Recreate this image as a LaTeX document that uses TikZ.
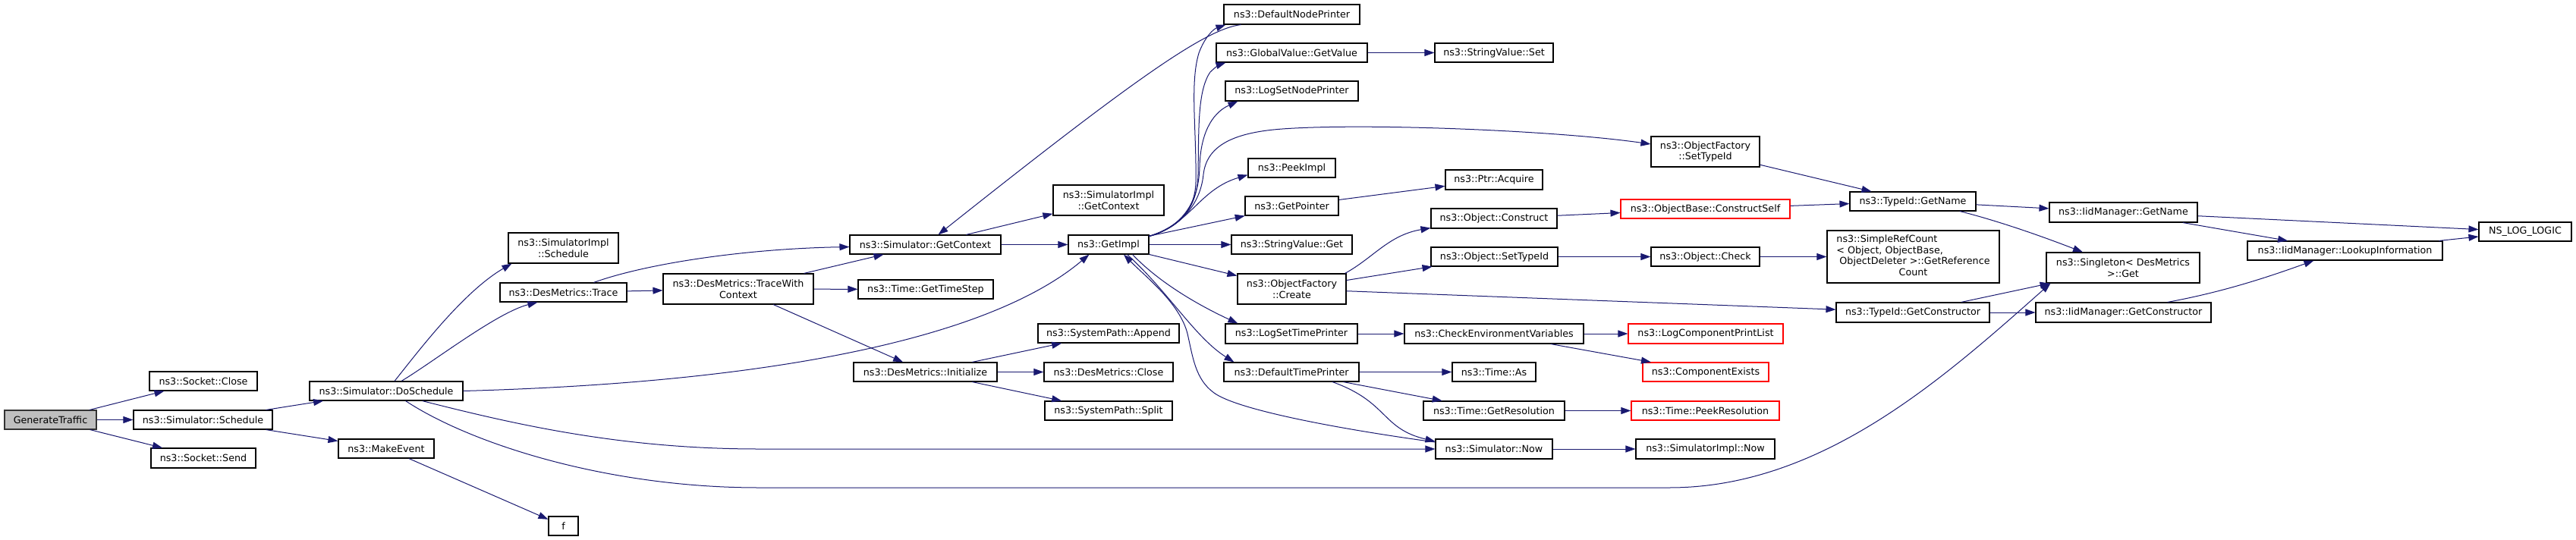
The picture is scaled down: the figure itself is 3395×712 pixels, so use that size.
\documentclass[tikz,border=0pt]{standalone}
\usepackage{fontspec}
\setmainfont{DejaVu Sans}
\usetikzlibrary{arrows.meta,calc}
\definecolor{edgec}{HTML}{191970}
\definecolor{grey75}{HTML}{BFBFBF}
\tikzset{
 box/.style={draw=black, line width=1.1pt, fill=white, inner sep=0pt, align=center, font=\fontsize{12.7}{14.7}\selectfont},
 redbox/.style={draw=red},
 rootbox/.style={fill=grey75, draw=black!80},
 call/.style={draw=edgec, line width=1pt, -{Triangle[length=13pt,width=9pt]}},
}
\newcommand{\nodebox}[7][]{\node[box,#1,minimum width={(#4)-(#2)},minimum height={(#5)-(#3)}] (#6) at ({((#2)+(#4))/2},{((#3)+(#5))/2}) {#7};}
\begin{document}
\begin{tikzpicture}[x=1pt,y=-1pt]
\useasboundingbox (0,0) rectangle (3395,712);
% nodes
\nodebox[rootbox]{6}{541}{127}{566}{gt}{GenerateTraffic}
\nodebox{197}{490}{339}{515}{sclose}{ns3::Socket::Close}
\nodebox{176}{541}{359}{566}{sched}{ns3::Simulator::Schedule}
\nodebox{199}{591}{337}{617}{ssend}{ns3::Socket::Send}
\nodebox{408}{503}{610}{528}{dosch}{ns3::Simulator::DoSchedule}
\nodebox{446}{579}{572}{604}{mkev}{ns3::MakeEvent}
\nodebox{723}{681}{762}{706}{ff}{f}
\nodebox{670}{307}{815}{347}{sisched}{ns3::SimulatorImpl\\::Schedule}
\nodebox{659}{373}{826}{398}{trace}{ns3::DesMetrics::Trace}
\nodebox{874}{361}{1072}{401}{twc}{ns3::DesMetrics::TraceWith\\Context}
\nodebox{1120}{310}{1319}{335}{gc}{ns3::Simulator::GetContext}
\nodebox{1131}{369}{1309}{394}{gts}{ns3::Time::GetTimeStep}
\nodebox{1125}{478}{1314}{503}{init}{ns3::DesMetrics::Initialize}
\nodebox{1368}{427}{1554}{452}{append}{ns3::SystemPath::Append}
\nodebox{1376}{478}{1546}{503}{dmclose}{ns3::DesMetrics::Close}
\nodebox{1377}{529}{1545}{554}{split}{ns3::SystemPath::Split}
\nodebox{1388}{244}{1534}{284}{sigc}{ns3::SimulatorImpl\\::GetContext}
\nodebox{1408}{310}{1514}{335}{gi}{ns3::GetImpl}
\nodebox{1613}{6}{1792}{32}{dnp}{ns3::DefaultNodePrinter}
\nodebox{1603}{57}{1802}{82}{gvgv}{ns3::GlobalValue::GetValue}
\nodebox{1891}{57}{2047}{82}{svset}{ns3::StringValue::Set}
\nodebox{1615}{107}{1790}{133}{lsnp}{ns3::LogSetNodePrinter}
\nodebox{2176}{180}{2319}{220}{ofst}{ns3::ObjectFactory\\::SetTypeId}
\nodebox{1645}{209}{1760}{234}{peek}{ns3::PeekImpl}
\nodebox{1905}{224}{2033}{250}{acq}{ns3::Ptr::Acquire}
\nodebox{1641}{259}{1764}{284}{gp}{ns3::GetPointer}
\nodebox{1886}{275}{2052}{301}{oc}{ns3::Object::Construct}
\nodebox[redbox]{2136}{263}{2359}{288}{cself}{ns3::ObjectBase::ConstructSelf}
\nodebox{1623}{310}{1782}{335}{svget}{ns3::StringValue::Get}
\nodebox{1886}{326}{2053}{351}{ost}{ns3::Object::SetTypeId}
\nodebox{2176}{326}{2319}{351}{check}{ns3::Object::Check}
\nodebox{1631}{361}{1774}{401}{create}{ns3::ObjectFactory\\::Create}
\nodebox{1615}{427}{1789}{453}{lstp}{ns3::LogSetTimePrinter}
\nodebox{1851}{427}{2087}{453}{cev}{ns3::CheckEnvironmentVariables}
\nodebox[redbox]{2146}{427}{2350}{453}{lcpl}{ns3::LogComponentPrintList}
\nodebox{1613}{478}{1791}{503}{dtp}{ns3::DefaultTimePrinter}
\nodebox{1914}{478}{2024}{503}{tas}{ns3::Time::As}
\nodebox[redbox]{2165}{478}{2331}{503}{cex}{ns3::ComponentExists}
\nodebox{1876}{529}{2062}{554}{gres}{ns3::Time::GetResolution}
\nodebox[redbox]{2150}{529}{2345}{554}{pres}{ns3::Time::PeekResolution}
\nodebox{1892}{579}{2046}{605}{now}{ns3::Simulator::Now}
\nodebox{2156}{579}{2339}{605}{sinow}{ns3::SimulatorImpl::Now}
\nodebox{2438}{253}{2604}{278}{tgn}{ns3::TypeId::GetName}
\nodebox{2701}{267}{2896}{293}{ign}{ns3::IidManager::GetName}
\nodebox{2408}{304}{2635}{373}{src}{\begin{tabular}{@{}l@{}}ns3::SimpleRefCount\\< Object, ObjectBase,\\\hspace*{4pt}ObjectDeleter >::GetReference\\\multicolumn{1}{@{}c@{}}{Count}\end{tabular}}
\nodebox{2697}{333}{2899}{373}{sing}{ns3::Singleton< DesMetrics\\ >::Get}
\nodebox{2420}{399}{2622}{425}{tgc}{ns3::TypeId::GetConstructor}
\nodebox{2683}{399}{2914}{425}{igc}{ns3::IidManager::GetConstructor}
\nodebox{2962}{318}{3219}{343}{lki}{ns3::IidManager::LookupInformation}
\nodebox{3267}{293}{3389}{318}{nll}{NS\_LOG\_LOGIC}
% edges
\draw[call] (gt) -- (sclose);
\draw[call] (gt) -- (sched);
\draw[call] (gt) -- (ssend);
\draw[call] (sched) -- (dosch);
\draw[call] (sched) -- (mkev);
\draw[call] (mkev) -- (ff);
\draw[call] ($(dosch.north)+(11,0)$) .. controls (550,465) and (610,385) .. ($(sisched.south west)+(5,0)$);
\draw[call] ($(dosch.north)+(20,0)$) .. controls (570,478) and (655,412) .. ($(trace.south west)+(50,0)$);
\draw[call] (dosch.east) .. controls (1000,505) and (1300,450) .. ($(gi.south west)+(28,0)$);
\draw[call] ($(dosch.south east)+(-54,0)$) .. controls (680,560) and (820,592) .. (1000,592) -- (now.west);
\draw[call] ($(dosch.south east)+(-76,0)$) .. controls (620,585) and (800,643) .. (1000,643) -- (2200,643) .. controls (2400,643) and (2560,500) .. ($(sing.south west)+(6,0)$);
\draw[call] ($(trace.north east)+(-44,0)$) .. controls (850,348) and (980,328) .. ($(gc.west)+(0,3)$);
\draw[call] (trace) -- (twc);
\draw[call] (twc) -- (gc);
\draw[call] (twc) -- (gts);
\draw[call] (twc) -- (init);
\draw[call] (init) -- (append);
\draw[call] (init) -- (dmclose);
\draw[call] (init) -- (split);
\draw[call] (gc) -- (sigc);
\draw[call] (gc) -- (gi);
\draw[call] ($(dnp.south west)+(23,0)$) .. controls (1590,38) and (1500,100) .. ($(gc.north)+(17,0)$);
% GetImpl upward fan
\draw[call] ($(gi.north east)+(0,2)$) .. controls (1550,300) and (1575,280) .. (1576,240) .. controls (1577,170) and (1568,110) .. (1580,70) .. controls (1588,48) and (1600,38) .. ($(dnp.south west)+(3,0)$);
\draw[call] ($(gi.north east)+(0,2)$) .. controls (1555,300) and (1578,275) .. (1579,230) .. controls (1580,170) and (1578,120) .. (1595,95) .. controls (1602,88) and (1608,85) .. ($(gvgv.south west)+(13,0)$);
\draw[call] ($(gi.north east)+(0,2)$) .. controls (1555,300) and (1580,270) .. (1581,220) .. controls (1582,180) and (1595,150) .. ($(lsnp.south west)+(17,0)$);
\draw[call] ($(gi.north east)+(0,2)$) .. controls (1555,300) and (1582,270) .. (1586,230) .. controls (1590,195) and (1620,175) .. (1690,170) .. controls (1800,162) and (2050,172) .. ($(ofst.west)+(0,-10)$);
\draw[call] ($(gi.north east)+(0,2)$) .. controls (1570,295) and (1580,250) .. ($(peek.south west)+(0,-4)$);
\draw[call] (gi) -- (gp);
\draw[call] (gi) -- (svget);
\draw[call] (gi) -- (create);
\draw[call] ($(gi.south east)+(-22,0)$) .. controls (1530,375) and (1585,405) .. ($(lstp.north west)+(17,0)$);
\draw[call] ($(gi.south east)+(-29,0)$) .. controls (1540,385) and (1575,445) .. ($(dtp.north west)+(14,0)$);
\draw[call] ($(now.west)+(0,-9)$) .. controls (1760,565) and (1630,540) .. (1600,518) .. controls (1575,500) and (1572,470) .. (1565,440) .. controls (1555,400) and (1510,365) .. ($(gi.south)+(20,0)$);
% right side
\draw[call] (gvgv) -- (svset);
\draw[call] (gp) -- (acq);
\draw[call] ($(create.north east)+(-2,0)$) .. controls (1810,340) and (1830,310) .. ($(oc.south west)+(0,-1)$);
\draw[call] (create) -- (ost);
\draw[call] (create) -- (tgc);
\draw[call] (oc) -- (cself);
\draw[call] (ost) -- (check);
\draw[call] (check) -- (src);
\draw[call] (ofst) -- (tgn);
\draw[call] (cself) -- (tgn);
\draw[call] (tgn) -- (ign);
\draw[call] ($(tgn.south)+(62,0)$) .. controls (2640,293) and (2700,315) .. ($(sing.north)+(-53,0)$);
\draw[call] (tgc) -- (sing);
\draw[call] (tgc) -- (igc);
\draw[call] (ign) -- (nll);
\draw[call] (ign) -- (lki);
\draw[call] ($(igc.north)+(58,0)$) .. controls (2930,385) and (2990,365) .. ($(lki.south west)+(88,0)$);
\draw[call] (lki) -- (nll);
\draw[call] (lstp) -- (cev);
\draw[call] (cev) -- (lcpl);
\draw[call] (cev) -- (cex);
\draw[call] (dtp) -- (tas);
\draw[call] (dtp) -- (gres);
\draw[call] ($(dtp.south)+(54,0)$) .. controls (1830,530) and (1820,565) .. ($(now.west)+(0,-10)$);
\draw[call] (gres) -- (pres);
\draw[call] (now) -- (sinow);
\end{tikzpicture}
\end{document}
